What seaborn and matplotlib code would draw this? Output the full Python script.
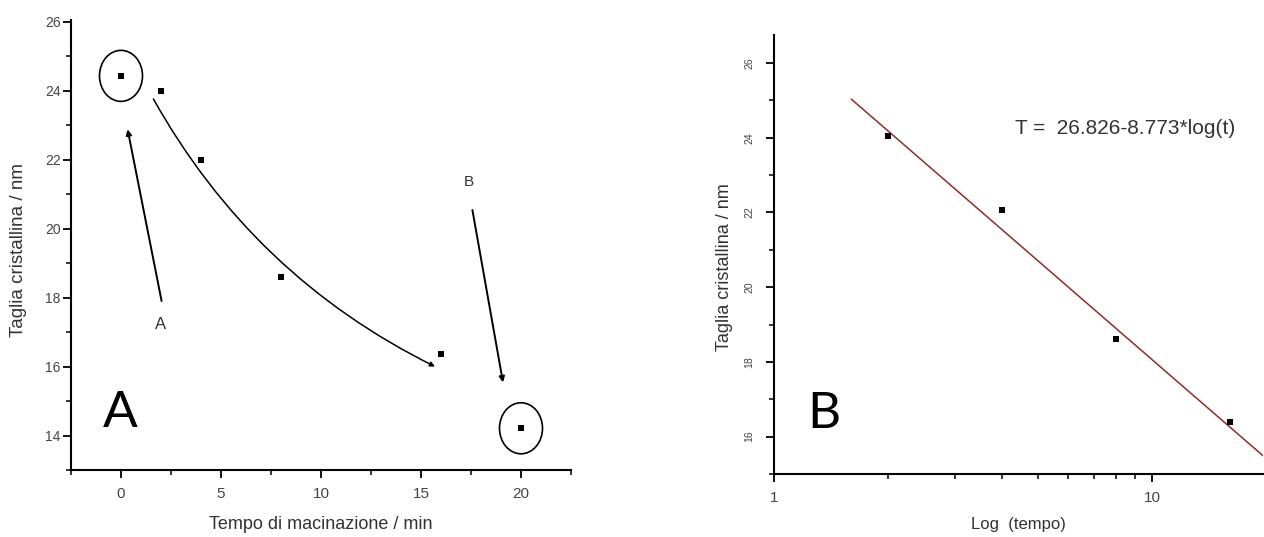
import matplotlib
matplotlib.use("Agg")
import matplotlib.pyplot as plt
import seaborn as sns
import numpy as np
from matplotlib.patches import Ellipse
from matplotlib.ticker import MultipleLocator, LogLocator, NullFormatter

# Panel A: crystallite size vs milling time
tempo_min = [0, 2, 4, 8, 16, 20]
taglia_nm = [24.43, 24.00, 22.00, 18.61, 16.35, 14.21]

# Panel B: the intermediate points on a log time axis
tempo_log = [2, 4, 8, 16]
taglia_log = [24.06, 22.07, 18.61, 16.40]

# fit printed on the chart: T = a - b*log(t), drawn over this time range
fit_a = 26.826
fit_b = 8.773
fit_range = [1.6, 19.6]
equation = "T =  26.826-8.773*log(t)"

sns.set_theme(style="ticks")
plt.rcParams["font.family"] = ["Liberation Sans", "DejaVu Sans"]

W, H = 1264, 537
fig = plt.figure(figsize=(W / 100, H / 100), dpi=100)
fig.patch.set_facecolor("white")


def px_axes(x0, y0, x1, y1):
    # axes box given in pixel coords of the picture (y from top)
    return fig.add_axes([x0 / W, 1 - y1 / H, (x1 - x0) / W, (y1 - y0) / H])


def style_axes(ax):
    sns.despine(ax=ax)
    for side in ["left", "bottom"]:
        ax.spines[side].set_linewidth(1.5)
        ax.spines[side].set_color("black")
    ax.set_facecolor("white")
    ax.tick_params(which="major", direction="out", length=6, width=1.3,
                   color="black", labelsize=11, labelcolor="#444444")
    ax.tick_params(which="minor", direction="out", length=3.5, width=1.1,
                   color="black")


text_col = "#333333"

# ---------------- panel A ----------------
axA = px_axes(71, 20, 571, 470)
style_axes(axA)
sns.scatterplot(x=tempo_min, y=taglia_nm, ax=axA, marker="s", s=20,
                color="black", linewidth=0, zorder=3)
axA.set_xlim(-2.5, 22.5)
axA.set_ylim(13, 26.05)
axA.xaxis.set_major_locator(MultipleLocator(5))
axA.xaxis.set_minor_locator(MultipleLocator(2.5))
axA.yaxis.set_major_locator(MultipleLocator(2))
axA.yaxis.set_minor_locator(MultipleLocator(1))
axA.tick_params(axis="x", which="major", pad=6)
axA.tick_params(axis="y", which="major", pad=1.5, labelsize=10)
axA.set_xlabel("Tempo di macinazione / min", fontsize=13, color=text_col)
axA.set_ylabel("Taglia cristallina / nm", fontsize=13.5, color=text_col)
axA.xaxis.set_label_coords(0.5, -0.1015)
axA.yaxis.set_label_coords(-0.088, 0.489)

# circles around first and last point
for i in (0, -1):
    axA.add_patch(Ellipse((tempo_min[i], taglia_nm[i]), width=2.15, height=1.48,
                          fill=False, lw=1.2, ec="black", zorder=2))

arrow_kw = dict(arrowstyle="-|>", color="black", lw=1.4, mutation_scale=8,
                shrinkA=0, shrinkB=0)
axA.annotate("", xy=(0.33, 22.88), xytext=(2.03, 17.9), arrowprops=arrow_kw)
axA.annotate("", xy=(19.1, 15.54), xytext=(17.57, 20.54), arrowprops=arrow_kw)
axA.annotate("", xy=(15.7, 16.0), xytext=(1.62, 23.76),
             arrowprops=dict(arrow_kw, lw=1.1, mutation_scale=7,
                             connectionstyle="arc3,rad=0.155"))
axA.text(1.98, 17.22, "A", ha="center", va="center", fontsize=12, color=text_col)
axA.text(17.37, 21.34, "B", ha="center", va="center", fontsize=11, color=text_col)
axA.text(0.098, 0.0946, "A", transform=axA.transAxes, ha="center",
         va="baseline", fontsize=37, family="Lato", color="black")

# ---------------- panel B ----------------
axB = px_axes(774, 35, 1263, 474)
style_axes(axB)
axB.set_xscale("log")
fit_T = [fit_a - fit_b * np.log10(t) for t in fit_range]
sns.lineplot(x=fit_range, y=fit_T, ax=axB, color="#8f2c2c", lw=1.1, zorder=2)
sns.scatterplot(x=tempo_log, y=taglia_log, ax=axB, marker="s", s=22,
                color="black", linewidth=0, zorder=3)
axB.set_xlim(1, 19.6)
axB.set_ylim(15, 26.75)
axB.set_xticks([1, 10], labels=["1", "10"])
axB.xaxis.set_minor_locator(LogLocator(base=10, subs=[2, 3, 4, 5, 6, 7, 8, 9]))
axB.xaxis.set_minor_formatter(NullFormatter())
axB.yaxis.set_major_locator(MultipleLocator(2))
axB.yaxis.set_minor_locator(MultipleLocator(1))
axB.tick_params(axis="x", which="major", pad=6)
axB.tick_params(axis="y", which="major", pad=8, labelsize=7.5, labelrotation=90)
for lab in axB.get_yticklabels():
    lab.set_va("center")
axB.set_xlabel("Log  (tempo)", fontsize=12, color=text_col)
axB.set_ylabel("Taglia cristallina / nm", fontsize=13, color=text_col)
axB.xaxis.set_label_coords(0.5, -0.0987)
axB.yaxis.set_label_coords(-0.084, 0.471)
axB.text(0.493, 0.7737, equation, transform=axB.transAxes, ha="left",
         va="baseline", fontsize=15, color=text_col)
axB.text(0.102, 0.1049, "B", transform=axB.transAxes, ha="center",
         va="baseline", fontsize=37, family="Lato", color="black")

fig.savefig("out.png", dpi=100)
